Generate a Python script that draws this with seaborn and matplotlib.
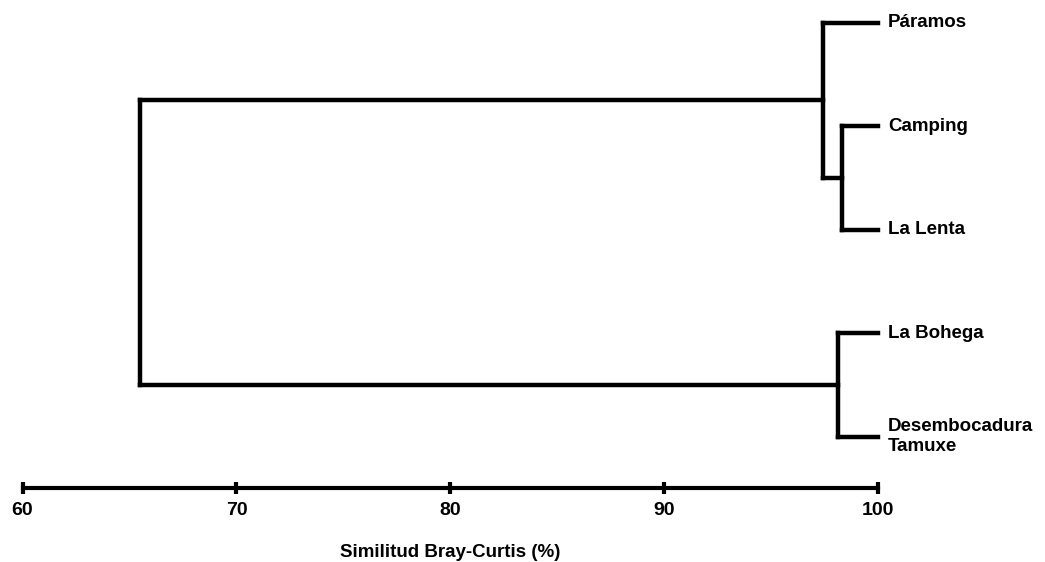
import numpy as np
import pandas as pd
import matplotlib
matplotlib.use("Agg")
import matplotlib.pyplot as plt
import seaborn as sns

# ---- data ----
leaves = ["Páramos", "Camping", "La Lenta", "La Bohega", "Desembocadura\nTamuxe"]
# merges: (left node, right node, similarity %) ; node ids >= len(leaves) are clusters
merge_left = [1, 0, 3, 6]
merge_right = [2, 5, 4, 7]
merge_sim = [98.3, 97.4, 98.1, 65.5]
xticks = [60, 70, 80, 90, 100]
xlabel = "Similitud Bray-Curtis (%)"

sns.set_theme(style="white")
plt.rcParams["font.family"] = ["Liberation Sans", "DejaVu Sans"]
plt.rcParams["text.color"] = "black"

# ---- build dendrogram segments ----
n = len(leaves)
pos = {i: float(i) for i in range(n)}
height = {i: 100.0 for i in range(n)}
rows = []
seg = 0
for k, (a, b, s) in enumerate(zip(merge_left, merge_right, merge_sim)):
    node = n + k
    for child in (a, b):
        rows.append(dict(seg=seg, x=height[child], y=pos[child]))
        rows.append(dict(seg=seg, x=s, y=pos[child]))
        seg += 1
    rows.append(dict(seg=seg, x=s, y=pos[a]))
    rows.append(dict(seg=seg, x=s, y=pos[b]))
    seg += 1
    pos[node] = (pos[a] + pos[b]) / 2
    height[node] = s
df = pd.DataFrame(rows)

W, H = 1045, 562
fig = plt.figure(figsize=(W / 100, H / 100), dpi=100)
x0_px, x1_px = 22.5, 878.3
ax = fig.add_axes([x0_px / W, 0, (x1_px - x0_px) / W, 1])
ax.set_xlim(60, 100)
top_px, step_px = 22.7, 103.5
ax.set_ylim((H - top_px) / step_px, -top_px / step_px)

sns.lineplot(data=df, x="x", y="y", units="seg", estimator=None, sort=False,
             color="black", linewidth=3.2, ax=ax, legend=False)
for line in ax.lines:
    line.set_clip_on(False)
    line.set_solid_capstyle("projecting")

for i, name in enumerate(leaves):
    ax.annotate(name, xy=(100, i), xytext=(7, 0), textcoords="offset points",
                ha="left", va="center", fontsize=13.5, fontweight="bold",
                linespacing=1.2, color="black", annotation_clip=False)

# scale bar as the bottom axis
for s in ["top", "right", "left"]:
    ax.spines[s].set_visible(False)
ax.spines["bottom"].set_position(("data", (488 - top_px) / step_px))
ax.spines["bottom"].set_linewidth(3)
ax.spines["bottom"].set_color("black")
ax.set_xticks(xticks)
ax.set_xticklabels([str(t) for t in xticks], fontsize=14, fontweight="bold")
ax.tick_params(axis="x", direction="inout", length=9, width=3, color="black",
               pad=5.5, bottom=True, labelcolor="black")
ax.set_yticks([])
ax.set_xlabel(xlabel, fontsize=13.5, fontweight="bold", labelpad=18, color="black")
ax.set_ylabel("")
ax.patch.set_alpha(0)

fig.savefig("out.png", dpi=100, facecolor="white")
